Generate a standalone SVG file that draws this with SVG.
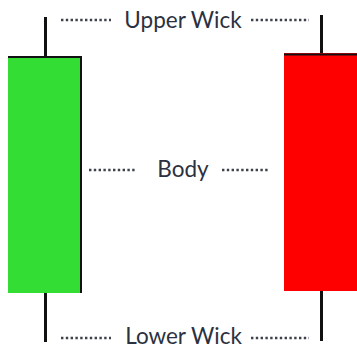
<svg xmlns="http://www.w3.org/2000/svg" width="357" height="348" viewBox="0 0 357 348">
<style>
.wick{stroke:#111;stroke-width:3}
.edge{stroke:#111;stroke-width:2}
.dots{stroke:#3d424a;stroke-width:2.5;stroke-dasharray:2.4 2.4;fill:none}
.lbl{font-family:Lato,"Open Sans",sans-serif;font-size:22.5px;fill:#2b3140;text-anchor:middle}
</style>
<rect width="357" height="348" fill="#fff"/>
<g id="green-candle">
<line class="wick" x1="45.5" y1="17" x2="45.5" y2="57"/>
<line class="wick" x1="45.5" y1="292" x2="45.5" y2="342"/>
<rect x="8" y="56" width="74" height="237" fill="#33dd33"/>
<line class="edge" x1="8" y1="57" x2="82" y2="57"/>
<line class="edge" x1="81" y1="56" x2="81" y2="293"/>
</g>
<g id="red-candle">
<line class="wick" x1="321.5" y1="15" x2="321.5" y2="55"/>
<line class="wick" x1="321.5" y1="290" x2="321.5" y2="341"/>
<rect x="284" y="53" width="73" height="238" fill="#ff0000"/>
<line class="edge" x1="284" y1="54.5" x2="357" y2="54.5"/>
</g>
<g id="connectors">
<line class="dots" x1="61" y1="20" x2="111" y2="20"/>
<line class="dots" x1="251" y1="20" x2="309" y2="20"/>
<line class="dots" x1="89" y1="170" x2="137" y2="170"/>
<line class="dots" x1="222" y1="170" x2="270" y2="170"/>
<line class="dots" x1="61" y1="338" x2="111" y2="338"/>
<line class="dots" x1="251" y1="338" x2="309" y2="338"/>
</g>
<g id="label-upper"><text class="lbl" x="183" y="28">Upper Wick</text></g>
<g id="label-body"><text class="lbl" x="183" y="177">Body</text></g>
<g id="label-lower"><text class="lbl" x="183.5" y="344">Lower Wick</text></g>
</svg>
